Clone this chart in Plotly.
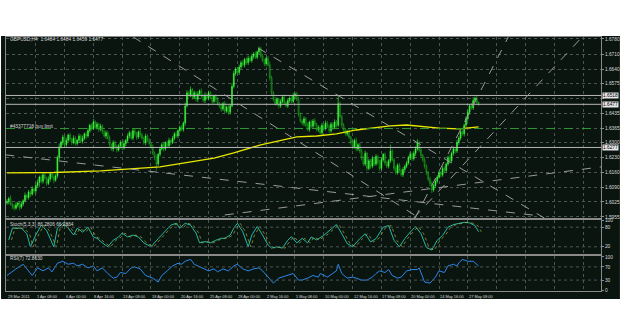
import plotly.graph_objects as go

# ---------------- data (price in pips above 1.6000) ----------------
BASE = 1.6
OPEN0 = 20
C = [25, 40, 15, 5, -5, 10, 20, 0, 15,
     30, 55, 45, 70, 60, 85, 75, 100,
     115, 140, 120, 150, 135, 110, 130, 155, 140, 125, 145,
     230, 280,
     300, 325, 290, 310, 335, 315,
     300, 320, 295, 310, 330, 305, 320, 340, 330,
     355, 380, 365, 395, 370, 385, 360, 375,
     350, 330, 345, 320,
     290, 270, 300, 280, 265, 285, 300, 275, 295, 310,
     330, 345, 320, 355, 340, 325, 350, 335,
     320, 300, 330, 310, 295, 280,
     250, 230, 200, 245, 270,
     290, 270, 300, 285, 310, 300,
     320, 340, 330, 355, 370, 360, 390,
     470, 530,
     520, 545, 510, 530, 500, 525, 540, 515, 495, 520, 505, 530, 510, 490, 515, 500, 480,
     470, 455, 480, 445, 465, 440, 470,
     560, 620, 640, 625,
     650, 670, 660, 685, 670, 690, 680, 700, 710, 695, 720, 735,
     700, 680, 665, 690, 660,
     600, 530, 500,
     480, 500, 470, 490, 510, 485, 470, 495, 505, 490, 515, 525, 500,
     430, 400,
     390, 410, 380, 360, 395, 375, 400, 385, 360, 370, 345, 380, 365, 390, 375, 355, 385, 370, 395, 380,
     480, 420, 380,
     360, 340, 350, 325,
     300, 280, 310, 270, 290, 260,
     230, 200, 250, 180, 215, 190, 225,
     200, 235, 210, 180, 220, 245, 205, 190, 215, 260, 220,
     180, 160, 195, 170, 150, 175, 190, 205,
     230, 245, 225, 250, 270, 300, 265, 240, 220,
     190, 160, 130, 110,
     80, 100, 120, 140,
     160, 150, 180, 170, 200,
     230, 215, 250, 270, 260, 300,
     320, 350, 340, 380, 410,
     440, 470, 460, 495,
     505, 485, 477]

WICK_UP = [12, 8, 15, 6, 10, 14, 5, 9, 11, 7,
           13, 6, 10, 8, 12, 5, 9, 14, 7, 11,
           8, 10, 6, 13, 9, 7, 12, 8, 10, 15,
           9, 11, 7, 12, 6, 10, 8, 14, 9, 7,
           11, 8, 13, 6, 10, 12, 7, 9, 14, 8,
           10, 6, 12, 9, 7, 11, 8, 13, 6, 10,
           9, 12, 7, 10, 8, 14, 6, 11, 9, 7,
           12, 8, 10, 6, 13, 9, 7, 11, 8, 10,
           6, 12, 9, 14, 7, 10, 8, 11, 6, 9,
           12, 7, 10, 8, 13, 6, 9, 11, 8, 15,
           12, 9, 14, 7, 10, 8, 12, 6, 11, 9,
           13, 7, 10, 8, 12, 6, 9, 11, 7, 10,
           8, 12, 6, 10, 9, 14, 12, 10, 8, 11,
           9, 12, 7, 10, 13, 8, 11, 9, 12, 7,
           10, 8, 12, 9, 7, 11, 15, 10, 8, 12,
           9, 7, 11, 8, 13, 6, 10, 9, 12, 14,
           8, 10, 12, 9, 7, 11, 8, 13, 6, 10,
           9, 12, 7, 10, 8, 11, 6, 12, 9, 7,
           10, 8, 12, 9, 35, 10, 8, 11, 7, 9,
           12, 6, 10, 8, 13, 7, 9, 11, 8, 12,
           6, 10, 9, 13, 7, 11, 8, 10, 12, 6,
           9, 11, 8, 30, 10, 7, 12, 8, 10, 9,
           11, 7, 10, 8, 12, 9, 10, 13, 15, 8,
           10, 7, 12, 9, 8, 11, 10, 8, 12, 9,
           11, 8, 10, 12, 7, 9, 13, 8, 11, 10,
           12, 9, 14, 10, 8, 12, 11, 9, 13, 15,
           8, 10, 6]

WICK_DN = [9, 12, 7, 14, 10, 6, 11, 15, 8, 10,
           7, 11, 9, 13, 6, 10, 12, 8, 20, 9,
           11, 7, 10, 8, 12, 9, 14, 7, 10, 12,
           8, 13, 9, 10, 7, 11, 12, 8, 10, 9,
           12, 7, 10, 9, 13, 8, 10, 11, 7, 9,
           10, 12, 8, 11, 7, 13, 9, 10, 8, 12,
           9, 11, 7, 12, 10, 8, 13, 9, 11, 7,
           10, 8, 12, 9, 11, 7, 10, 13, 8, 9,
           11, 8, 12, 30, 9, 10, 7, 12, 8, 11,
           9, 12, 7, 10, 8, 11, 9, 7, 10, 12,
           8, 11, 9, 12, 7, 10, 13, 8, 11, 9,
           12, 8, 10, 7, 11, 9, 12, 8, 10, 13,
           9, 11, 8, 12, 10, 7, 9, 11, 8, 12,
           10, 8, 12, 9, 11, 7, 10, 12, 8, 9,
           11, 9, 7, 12, 10, 8, 13, 12, 10, 9,
           8, 12, 10, 9, 11, 7, 10, 12, 9, 8,
           12, 9, 11, 8, 10, 13, 9, 7, 11, 10,
           8, 11, 9, 12, 7, 10, 13, 9, 8, 11,
           10, 12, 8, 11, 9, 7, 12, 10, 8, 11,
           9, 10, 12, 8, 11, 9, 10, 13, 8, 10,
           11, 8, 12, 9, 10, 8, 12, 11, 9, 10,
           12, 9, 10, 11, 8, 12, 9, 10, 11, 8,
           10, 12, 9, 8, 11, 10, 9, 12, 8, 11,
           9, 10, 11, 12, 10, 13, 15, 9, 11, 10,
           8, 12, 9, 10, 11, 8, 12, 9, 10, 11,
           9, 11, 10, 8, 12, 9, 10, 11, 8, 9,
           10, 9, 7]

# yellow moving average (bar index, pips)
MA_I = [0, 26, 52, 85, 115, 126, 141, 153, 161, 172, 183, 194, 213, 222, 233, 240, 251, 262]
MA_V = [159, 161, 168, 187, 228, 252, 289, 312, 326, 330, 340, 358, 377, 381, 372, 367, 363, 372]

# stochastic main line (bar index, value)
STO_I = [1, 3, 8, 11, 13, 16, 19, 22, 26, 28, 31, 34, 37, 39, 42, 45, 48, 50, 53, 56, 59, 62,
         64, 67, 70, 73, 76, 80, 84, 87, 91, 94, 96, 99, 102, 105, 107, 110, 113, 116, 119, 121,
         124, 126, 128, 131, 134, 136, 139, 142, 145, 147, 150, 153, 156, 158, 161, 164, 167,
         169, 172, 176, 179, 183, 186, 189, 192, 196, 199, 202, 205, 209, 212, 215, 218, 221,
         224, 227, 230, 233, 236, 239, 242, 245, 248, 251, 254, 257, 260, 262]
STO_V = [41, 77, 77, 60, 20, 56, 86, 70, 20, 77, 92, 77, 56, 77, 65, 80, 50, 46, 32, 20, 40, 50,
         62, 50, 56, 50, 32, 20, 45, 62, 86, 92, 77, 92, 86, 62, 32, 36, 32, 40, 46, 46,
         56, 77, 92, 66, 20, 56, 82, 56, 26, 16, 20, 16, 40, 51, 32, 46, 32,
         50, 41, 55, 70, 88, 60, 30, 20, 45, 60, 35, 45, 80, 85, 40, 20, 45,
         65, 82, 60, 18, 10, 40, 55, 80, 88, 92, 95, 93, 85, 66]

# RSI(7)
RSI_I = [0, 2, 5, 9, 12, 14, 17, 20, 23, 25, 28, 31, 34, 37, 39, 42, 45, 48, 50, 53, 56, 59, 61,
         63, 66, 69, 71, 74, 77, 81, 84, 86, 89, 92, 95, 97, 99, 102, 104, 106, 109, 112, 115,
         117, 120, 123, 126, 128, 131, 134, 137, 140, 142, 145, 148, 151, 153, 156, 159, 162,
         164, 167, 170, 173, 174, 178, 181, 183, 184, 186, 189, 192, 194, 197, 200, 203, 205,
         207, 210, 212, 214, 217, 219, 222, 225, 228, 229, 232, 235, 238, 240, 243, 245, 248,
         250, 251, 253, 256, 259, 262]
RSI_V = [44, 53, 64, 78, 58, 44, 67, 58, 67, 55, 81, 87, 78, 81, 73, 78, 67, 73, 58, 67, 50, 36, 39,
         53, 50, 67, 70, 64, 44, 36, 24, 44, 58, 73, 81, 78, 87, 93, 78, 73, 64, 58, 64,
         55, 64, 58, 73, 78, 64, 58, 64, 67, 58, 39, 21, 36, 39, 44, 50, 30,
         30, 36, 44, 39, 50, 39, 50, 58, 78, 50, 36, 39, 36, 30, 30, 39, 50,
         58, 53, 62, 44, 36, 39, 58, 62, 62, 67, 24, 21, 39, 58, 53, 73, 78,
         73, 82, 93, 87, 87, 72.86]

# time axis
TICK_I = [0, 16, 32, 48, 64, 80, 96, 112, 128, 144, 160, 176, 192, 208, 224, 240, 256]
TICK_T = ["29 Mar 2011", "1 Apr 08:00", "6 Apr 00:00", "8 Apr 16:00", "13 Apr 08:00",
          "18 Apr 00:00", "20 Apr 16:00", "25 Apr 08:00", "28 Apr 00:00", "2 May 16:00",
          "5 May 08:00", "10 May 00:00", "12 May 16:00", "17 May 08:00", "20 May 00:00",
          "24 May 16:00", "27 May 08:00"]
GRID_I = TICK_I + [272, 288, 304, 320]

# price axis
PRICE_TICKS = [1.5955, 1.6025, 1.6090, 1.6160, 1.6230, 1.6300, 1.6365, 1.6435,
               1.6505, 1.6575, 1.6640, 1.6710, 1.6780]
PRICE_LABELS = ["1.5955", "1.6025", "1.6090", "1.6160", "1.6230", "1.6300", "1.6365", "1.6435",
                "", "1.6575", "1.6640", "1.6710", "1.6780"]
HLINES = [1.6518, 1.6477, 1.6277]
ORDER_LEVEL = 1.6365

# trend lines (bar index, price) -> (bar index, price)
TRENDS = [(70, 1.6790, 229, 1.5950),
          (139.5, 1.6738, 298.5, 1.5950),
          (-1, 1.6243, 296, 1.5960),
          (121, 1.5964, 331, 1.6188),
          (226, 1.5950, 319.5, 1.6789),
          (226.7, 1.5950, 278.5, 1.6789)]

# ---------------- build ----------------
N = len(C)
idx = list(range(N))
O = [OPEN0] + C[:-1]
op = [BASE + v / 1e4 for v in O]
cl = [BASE + v / 1e4 for v in C]
hi = [BASE + (max(o, c) + u) / 1e4 for o, c, u in zip(O, C, WICK_UP)]
lo = [BASE + (min(o, c) - d) / 1e4 for o, c, d in zip(O, C, WICK_DN)]

BG = "#0b1510"
GRID = "#4a5652"
BORDER = "#8a8a8a"
TXT = "#d8d8d8"
FONT = "Liberation Sans"

# pixel helpers for layout placement (plot area x 5..602, y 37..291)
L, R, T, B = 5, 602, 37, 291
def px(x):
    return (x - L) / (R - L)
def py(y):
    return (B - y) / (B - T)

fig = go.Figure()
fig.add_trace(go.Candlestick(
    x=idx, open=op, high=hi, low=lo, close=cl,
    increasing=dict(line=dict(color="#3cff3c", width=0.6), fillcolor="#3cff3c"),
    decreasing=dict(line=dict(color="#1fb81f", width=0.6), fillcolor="#0b1510"),
    whiskerwidth=0, xaxis="x", yaxis="y", showlegend=False, hoverinfo="skip"))
fig.add_trace(go.Scatter(x=MA_I, y=[BASE + v / 1e4 for v in MA_V], mode="lines",
                         line=dict(color="#e8e800", width=1.3), xaxis="x", yaxis="y",
                         showlegend=False, hoverinfo="skip"))
fig.add_trace(go.Scatter(x=STO_I, y=STO_V, mode="lines",
                         line=dict(color="#22b8a8", width=1), xaxis="x2", yaxis="y2",
                         showlegend=False, hoverinfo="skip"))
fig.add_trace(go.Scatter(x=[i + 1.5 for i in STO_I], y=STO_V, mode="lines",
                         line=dict(color="#c8c832", width=1, dash="dot"), xaxis="x2", yaxis="y2",
                         showlegend=False, hoverinfo="skip", opacity=0.6))
fig.add_trace(go.Scatter(x=RSI_I, y=RSI_V, mode="lines",
                         line=dict(color="#2a86e8", width=1), xaxis="x3", yaxis="y3",
                         showlegend=False, hoverinfo="skip"))

xr = [-0.55, 330.0]
xcommon = dict(range=xr, tickvals=GRID_I, showticklabels=False, ticks="",
               showgrid=True, gridcolor=GRID, griddash="dot", gridwidth=1, zeroline=False,
               showline=True, linecolor=BORDER, mirror=True, fixedrange=True)
ycommon = dict(side="right", showline=True, linecolor=BORDER, mirror=True, zeroline=False,
               ticks="outside", ticklen=2, tickcolor=BORDER,
               tickfont=dict(family=FONT, size=4.8, color=TXT), fixedrange=True)

shapes = []
# dark background of the whole terminal window
shapes.append(dict(type="rect", xref="paper", yref="paper", x0=px(0), x1=px(621),
                   y0=py(299), y1=py(36), fillcolor=BG, line=dict(width=0), layer="below"))
for p in HLINES:
    shapes.append(dict(type="line", xref="x domain", yref="y", x0=0, x1=1, y0=p, y1=p,
                       line=dict(color="#b8b8b8", width=1)))
shapes.append(dict(type="line", xref="x domain", yref="y", x0=0, x1=1, y0=ORDER_LEVEL, y1=ORDER_LEVEL,
                   line=dict(color="#2f9a2f", width=1, dash="dash")))
for (i0, p0, i1, p1) in TRENDS:
    shapes.append(dict(type="line", xref="x", yref="y", x0=i0, x1=i1, y0=p0, y1=p1,
                       line=dict(color="#9a9a9a", width=1, dash="dash")))
for lv in [80, 20]:
    shapes.append(dict(type="line", xref="x2 domain", yref="y2", x0=0, x1=1, y0=lv, y1=lv,
                       line=dict(color=GRID, width=1, dash="dot")))
for lv in [70, 30]:
    shapes.append(dict(type="line", xref="x3 domain", yref="y3", x0=0, x1=1, y0=lv, y1=lv,
                       line=dict(color=GRID, width=1, dash="dot")))

ann = []
small = dict(family=FONT, size=4.8, color=TXT)
ann.append(dict(xref="paper", yref="paper", x=px(7), y=py(40), xanchor="left", yanchor="middle",
                text="GBPUSD,H4  1.6484 1.6484 1.6459 1.6477", showarrow=False, font=small))
ann.append(dict(xref="paper", yref="paper", x=px(7), y=py(126), xanchor="left", yanchor="middle",
                text="#43377718 buy limit", showarrow=False, font=small))
ann.append(dict(xref="paper", yref="paper", x=px(7), y=py(224), xanchor="left", yanchor="middle",
                text="Stoch(5,3,3) 86.2806 66.2864", showarrow=False, font=small))
ann.append(dict(xref="paper", yref="paper", x=px(7), y=py(258), xanchor="left", yanchor="middle",
                text="RSI(7) 72.8630", showarrow=False, font=small))
for p in HLINES:
    ann.append(dict(xref="paper", yref="y", x=1, y=p, xanchor="left", yanchor="middle", xshift=1,
                    text=f"{p:.4f}", showarrow=False, bgcolor="#e6e6e6", borderpad=0,
                    font=dict(family=FONT, size=4.8, color="#000000")))
for i, t in zip(TICK_I, TICK_T):
    ann.append(dict(xref="x3", yref="paper", x=i, y=py(291), xanchor="left", yanchor="top",
                    yshift=-1, xshift=-1, text=t, showarrow=False,
                    font=dict(family=FONT, size=3.9, color=TXT)))

fig.update_layout(
    width=625, height=336,
    margin=dict(l=L, r=625 - R, t=T, b=336 - B),
    paper_bgcolor="white", plot_bgcolor=BG,
    showlegend=False,
    xaxis=dict(**xcommon, domain=[0, 1], anchor="y", matches="x3"),
    xaxis2=dict(**xcommon, domain=[0, 1], anchor="y2", matches="x3"),
    xaxis3=dict(**xcommon, domain=[0, 1], anchor="y3"),
    yaxis=dict(**ycommon, domain=[py(218), 1], range=[1.5950, 1.6789],
               tickvals=PRICE_TICKS, ticktext=PRICE_LABELS,
               showgrid=True, gridcolor=GRID, griddash="dot"),
    yaxis2=dict(**ycommon, domain=[py(254), py(220)], range=[-2, 102],
                tickvals=[100, 80, 20], showgrid=False),
    yaxis3=dict(**ycommon, domain=[0, py(256)], range=[-3, 103],
                tickvals=[100, 70, 30, 0], showgrid=False),
    shapes=shapes, annotations=ann,
)
fig.update_xaxes(rangeslider_visible=False)

fig.write_html("out.html")
